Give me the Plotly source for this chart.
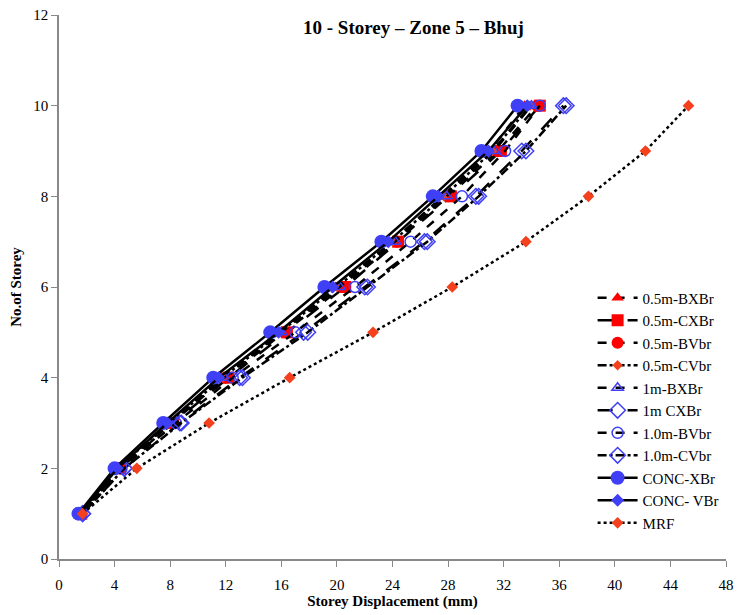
import plotly.graph_objects as go

storeys = [1, 2, 3, 4, 5, 6, 7, 8, 9, 10]

bxbr_05 = [1.5, 4.2, 7.9, 11.7, 15.8, 19.9, 24.0, 27.6, 31.0, 33.5]
cxbr_05 = [1.6, 4.4, 8.2, 12.2, 16.4, 20.6, 24.4, 28.2, 31.8, 34.6]
bvbr_05 = [1.6, 4.4, 8.1, 12.0, 16.2, 20.4, 24.3, 28.0, 31.6, 34.4]
cvbr_05 = [1.5, 4.2, 7.9, 11.8, 15.9, 20.0, 24.0, 27.7, 31.2, 33.9]
bxbr_1 = [1.5, 4.3, 8.0, 11.9, 16.0, 20.2, 24.2, 27.9, 31.3, 34.0]
cxbr_1 = [1.7, 4.7, 8.7, 13.0, 17.6, 22.0, 26.3, 30.0, 33.3, 36.3]
bvbr_1 = [1.6, 4.5, 8.4, 12.5, 17.0, 21.3, 25.3, 29.0, 32.1, 34.6]
cvbr_1 = [1.7, 4.7, 8.8, 13.2, 17.9, 22.2, 26.5, 30.2, 33.6, 36.5]
conc_xbr = [1.4, 4.0, 7.5, 11.1, 15.2, 19.1, 23.2, 26.9, 30.4, 33.0]
conc_vbr = [1.5, 4.2, 7.8, 11.5, 15.8, 19.7, 23.7, 27.3, 30.9, 33.7]
mrf = [1.7, 5.6, 10.8, 16.6, 22.6, 28.3, 33.6, 38.1, 42.2, 45.3]

x_ticks = list(range(0, 49, 4))
y_ticks = list(range(0, 13, 2))

RED = "#FF0000"
ORANGE = "#F4401C"
BLUE = "#3F3FF5"

series = [
    ("0.5m-BXBr", bxbr_05, "dash", dict(symbol="triangle-up", size=11, color=RED)),
    ("0.5m-CXBr", cxbr_05, "longdash", dict(symbol="square", size=12, color=RED)),
    ("0.5m-BVbr", bvbr_05, "dash", dict(symbol="circle", size=12, color=RED)),
    ("0.5m-CVbr", cvbr_05, "dashdot", dict(symbol="diamond", size=8, color=ORANGE)),
    ("1m-BXBr", bxbr_1, "dash", dict(symbol="triangle-up-open", size=10, color=BLUE, line=dict(width=1.5, color=BLUE))),
    ("1m CXBr", cxbr_1, "longdash", dict(symbol="diamond-open", size=12, color=BLUE, line=dict(width=1.5, color=BLUE))),
    ("1.0m-BVbr", bvbr_1, "dash", dict(symbol="circle-open", size=11, color=BLUE, line=dict(width=1.5, color=BLUE))),
    ("1.0m-CVbr", cvbr_1, "dashdot", dict(symbol="diamond-open", size=12, color=BLUE, line=dict(width=1.5, color=BLUE))),
    ("CONC-XBr", conc_xbr, "solid", dict(symbol="circle", size=14, color=BLUE)),
    ("CONC- VBr", conc_vbr, "solid", dict(symbol="diamond", size=10, color=BLUE)),
    ("MRF", mrf, "dot", dict(symbol="diamond", size=9, color=ORANGE)),
]

fig = go.Figure()
for name, xs, dash, marker in series:
    fig.add_trace(go.Scatter(
        x=xs, y=storeys, name=name, mode="lines+markers",
        line=dict(color="black", width=2.5, dash=dash),
        marker=marker,
    ))

font_family = "Liberation Serif"
fig.update_layout(
    width=737, height=615,
    margin=dict(l=59, r=11, t=15, b=56),
    paper_bgcolor="white", plot_bgcolor="white",
    font=dict(family=font_family, size=15, color="black"),
    showlegend=True,
    legend=dict(x=0.8, y=0.51, xanchor="left", yanchor="top",
                bgcolor="rgba(0,0,0,0)", font=dict(size=15),
                tracegroupgap=0, itemwidth=40),
    xaxis=dict(range=[0, 48], tickvals=x_ticks, ticks="outside", ticklen=6,
               tickcolor="#888", showline=True, linecolor="#888", linewidth=1.5,
               showgrid=False, zeroline=False, automargin=False,
               ticklabelstandoff=5,
               title=dict(text="<b>Storey Displacement (mm)</b>", standoff=2,
                          font=dict(size=15))),
    yaxis=dict(range=[0, 12], tickvals=y_ticks, ticks="outside", ticklen=6,
               tickcolor="#888", showline=True, linecolor="#888", linewidth=1.5,
               showgrid=False, zeroline=False, automargin=False,
               title=dict(text="<b>No.of Storey</b>", standoff=8,
                          font=dict(size=15))),
    annotations=[dict(text="<b>10 - Storey – Zone 5 – Bhuj</b>", x=0.532, y=1.0,
                      xref="paper", yref="paper", showarrow=False,
                      font=dict(size=19), xanchor="center", yanchor="top")],
)

fig.write_html("out.html")
